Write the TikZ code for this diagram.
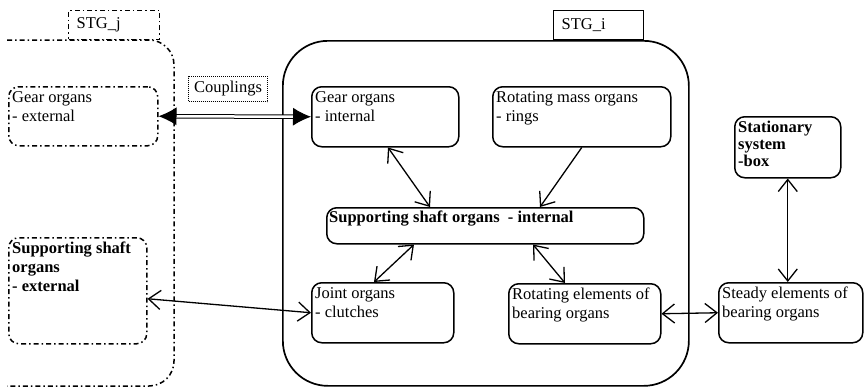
\documentclass[tikz,border=0pt]{standalone}
\usepackage{fontspec}
\setmainfont{Liberation Serif}
\usetikzlibrary{arrows.meta}
\tikzstyle{organ} = [rectangle, rounded corners=10pt, anchor=north west, draw=black, line width=1.5pt]
\tikzstyle{dashdot} = [dash pattern=on 5pt off 3pt on 1.5pt off 3pt]
\tikzstyle{outer} = [organ, dashdot]
\tikzstyle{inbox} = [anchor=north west, align=left, inner xsep=4pt, inner ysep=5pt, font=\fontsize{16.5}{19}\selectfont]
\tikzstyle{tab} = [rectangle, anchor=south west, draw=black, line width=1.3pt, align=left, minimum height=29pt, inner xsep=8pt, font=\fontsize{16.5}{19}\selectfont]
\tikzstyle{arrow} = [line width=1.3pt, <->, >={Straight Barb[length=12pt,width=19pt]}]
\tikzstyle{oneway} = [line width=1.3pt, ->, >={Straight Barb[length=12pt,width=19pt]}]
\tikzstyle{coupling} = [double, double distance=2.5pt, line width=1pt, <->, >={Latex[length=18pt,width=18pt]}]

\begin{document}
\begin{tikzpicture}[x=1pt, y=-1pt]
\useasboundingbox (0,0) rectangle (867,388);

% Neighbouring system STG_j
\draw [dashdot, line width=1.5pt, rounded corners=25pt] (7,40) -- (174,40) -- (174,386) -- (7,386);
\node (tabj) [tab, dashdot, text width=75pt] at (68,40) {STG\_j};
\node (gext) [outer, minimum width=149pt, minimum height=59pt,
  label={[inbox]north west:{Gear organs\\- external}}] at (8,86) {};
\node (sext) [outer, minimum width=138pt, minimum height=106pt,
  label={[inbox, font=\fontsize{16.5}{19}\selectfont\bfseries]north west:{Supporting shaft\\organs\\- external}}] at (8,237) {};

% System STG_i
\node (stgi) [draw=black, line width=1.7pt, rounded corners=45pt, anchor=north west,
  minimum width=406pt, minimum height=345pt] at (282,40) {};
\node (tabi) [tab, text width=74pt] at (553,40) {STG\_i};
\node (gint) [organ, minimum width=147pt, minimum height=60pt,
  label={[inbox]north west:{Gear organs\\- internal}}] at (311,86) {};
\node (rmass) [organ, minimum width=178pt, minimum height=60pt,
  label={[inbox]north west:{Rotating mass organs\\- rings}}] at (492,86) {};
\node (sint) [organ, minimum width=317pt, minimum height=36pt,
  label={[inbox, inner xsep=3pt, inner ysep=4pt, font=\fontsize{16.5}{19}\selectfont\bfseries]north west:{Supporting shaft organs\ \ - internal}}] at (326,207) {};
\node (joint) [organ, minimum width=142pt, minimum height=60pt,
  label={[inbox]north west:{Joint organs\\- clutches}}] at (311,282) {};
\node (relem) [organ, minimum width=152pt, minimum height=60pt,
  label={[inbox]north west:{Rotating elements of\\bearing organs}}] at (508,283) {};

% Stationary side
\node (stat) [organ, minimum width=106pt, minimum height=61pt,
  label={[inbox, font=\fontsize{16.5}{17}\selectfont\bfseries]north west:{Stationary\\system\\-box}}] at (734,116) {};
\node (steady) [organ, minimum width=144pt, minimum height=60pt,
  label={[inbox]north west:{Steady elements of\\bearing organs}}] at (718,282) {};

\node (coup) [draw=black, densely dotted, line width=1pt, anchor=north west, minimum width=79pt,
  minimum height=25pt, inner sep=2pt, font=\fontsize{16.5}{19}\selectfont] at (188,76) {Couplings};

% Drawing arrows
\draw [coupling] (gext.east) -- (gint.west);
\draw [arrow] ([xshift=77pt]gint.south west) -- ([xshift=104pt]sint.north west);
\draw [oneway] (rmass.south) -- ([xshift=214pt]sint.north west);
\draw [arrow] ([xshift=88pt]sint.south west) -- ([xshift=63pt]joint.north west);
\draw [arrow] ([xshift=207pt]sint.south west) -- ([xshift=57pt]relem.north west);
\draw [arrow] ([yshift=-8pt]sext.east) -- (joint.west);
\draw [arrow] (relem.east) -- (steady.west);
\draw [arrow] (stat.south) -- (stat.south |- steady.north);
\end{tikzpicture}
\end{document}
